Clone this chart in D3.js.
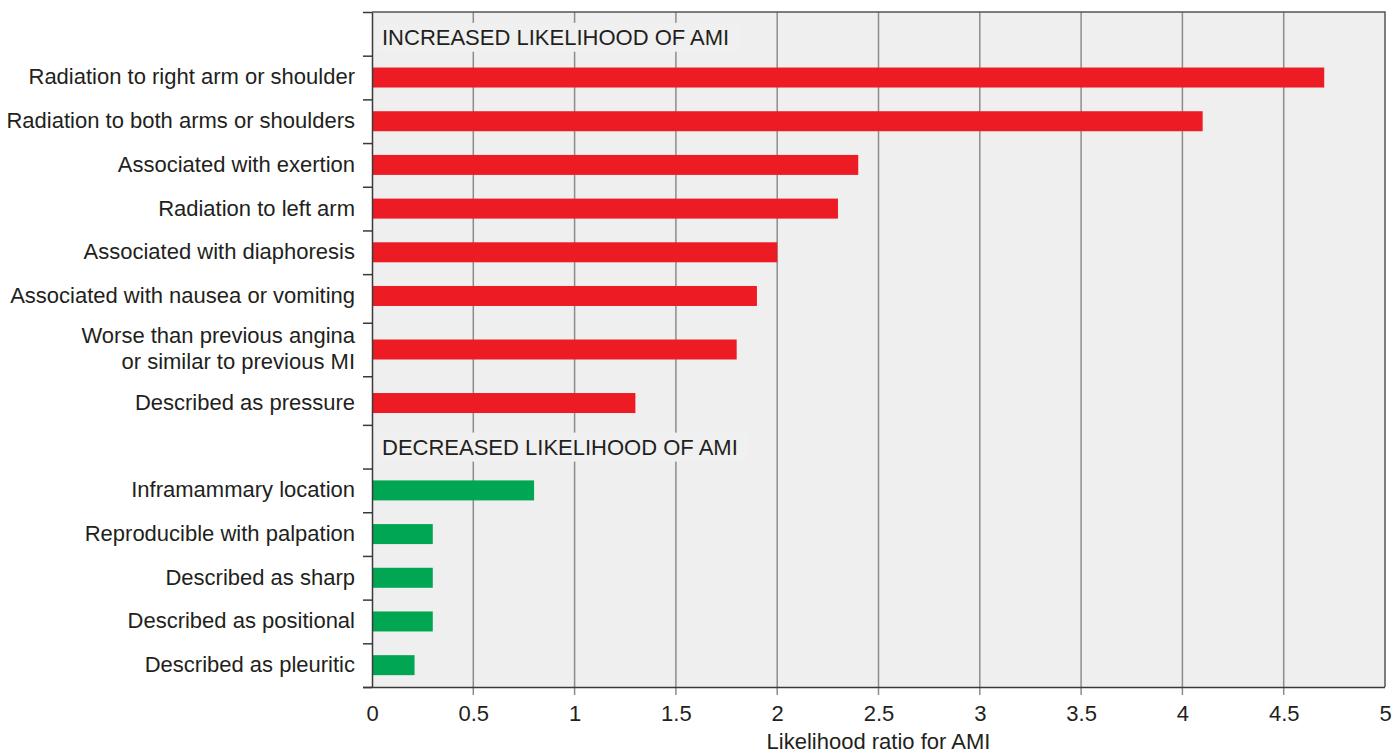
<!DOCTYPE html>
<html>
<head>
<meta charset="utf-8">
<script src="https://cdn.jsdelivr.net/npm/d3@7"></script>
<style>
  html, body { margin: 0; padding: 0; background: #fff; }
  svg { display: block; font-family: "Liberation Sans", Arial, Helvetica, sans-serif; }
</style>
</head>
<body>
<svg id="chart" width="1393" height="756"></svg>
<script>
// ---------------- data ----------------
const groupLabels = ["INCREASED LIKELIHOOD OF AMI", "DECREASED LIKELIHOOD OF AMI"];
const increasedCategories = [
  "Radiation to right arm or shoulder",
  "Radiation to both arms or shoulders",
  "Associated with exertion",
  "Radiation to left arm",
  "Associated with diaphoresis",
  "Associated with nausea or vomiting",
  "Worse than previous angina\nor similar to previous MI",
  "Described as pressure"
];
const increasedValues = [4.7, 4.1, 2.4, 2.3, 2.0, 1.9, 1.8, 1.3];
const decreasedCategories = [
  "Inframammary location",
  "Reproducible with palpation",
  "Described as sharp",
  "Described as positional",
  "Described as pleuritic"
];
const decreasedValues = [0.8, 0.3, 0.3, 0.3, 0.21];
const xTickValues = [0, 0.5, 1, 1.5, 2, 2.5, 3, 3.5, 4, 4.5, 5];
const xTickLabels = ["0", "0.5", "1", "1.5", "2", "2.5", "3", "3.5", "4", "4.5", "5"];
const axisTitle = "Likelihood ratio for AMI";

// ---------------- layout ----------------
const W = 1393, H = 756;
const plot = { left: 372, right: 1385, top: 12, bottom: 687 };
const colors = { inc: "#ed1c24", dec: "#00a651", panel: "#efefef", grid: "#8c8c8c", frame: "#3a3a3a", text: "#231f20" };
const fontSize = 22;
const barH = 20;

// rows: label, increased..., label, decreased...
const rows = [];
rows.push({ type: "label", text: groupLabels[0] });
increasedCategories.forEach((c, i) => rows.push({ type: "bar", text: c, value: increasedValues[i], color: colors.inc }));
rows.push({ type: "label", text: groupLabels[1] });
decreasedCategories.forEach((c, i) => rows.push({ type: "bar", text: c, value: decreasedValues[i], color: colors.dec }));

// slot weight: two-line labels take more room
rows.forEach(r => { r.w = r.text.includes("\n") ? 1.45 : 1; });
let acc = 0;
rows.forEach(r => { r.slot = acc + r.w / 2; acc += r.w; });
const total = acc;

const x = d3.scaleLinear().domain([0, 5]).range([plot.left, plot.right]);
const y = d3.scaleLinear().domain([0, total]).range([plot.top, plot.bottom]);

// boundaries: midpoints between row centers, plus ends
const boundaries = [0];
for (let i = 0; i < rows.length - 1; i++) boundaries.push((rows[i].slot + rows[i + 1].slot) / 2);
boundaries.push(total);

const svg = d3.select("#chart");

// panel background
svg.append("rect")
  .attr("x", plot.left).attr("y", plot.top)
  .attr("width", plot.right - plot.left).attr("height", plot.bottom - plot.top)
  .attr("fill", colors.panel);

// gridlines (extend below as ticks)
svg.append("g").selectAll("line")
  .data(xTickValues.filter(v => v > 0 && v < 5))
  .join("line")
  .attr("x1", d => x(d)).attr("x2", d => x(d))
  .attr("y1", plot.top).attr("y2", plot.bottom + 8)
  .attr("stroke", colors.grid).attr("stroke-width", 1.5);

// section label boxes
const labelG = svg.append("g");
rows.filter(r => r.type === "label").forEach(r => {
  const g = labelG.append("g");
  const t = g.append("text")
    .attr("x", plot.left + 10)
    .attr("y", y(r.slot) + (r === rows[0] ? 3 : 0))
    .attr("dy", "0.36em")
    .attr("font-size", fontSize)
    .attr("fill", colors.text)
    .text(r.text);
  const bb = t.node().getBBox();
  g.insert("rect", "text")
    .attr("x", bb.x - 5).attr("y", bb.y - 2)
    .attr("width", bb.width + 16).attr("height", bb.height + 4)
    .attr("fill", "#f0f0f0");
});

// bars
const barRows = rows.filter(r => r.type === "bar");
svg.append("g").selectAll("rect")
  .data(barRows)
  .join("rect")
  .attr("x", x(0))
  .attr("y", d => y(d.slot) - barH / 2)
  .attr("width", d => x(d.value) - x(0))
  .attr("height", barH)
  .attr("fill", d => d.color);

// frame: top and right
svg.append("path")
  .attr("d", `M${plot.left},${plot.top}H${plot.right}V${plot.bottom}`)
  .attr("fill", "none").attr("stroke", "#555").attr("stroke-width", 1.5);

// left axis (ticks at row boundaries)
const yAxis = d3.axisLeft(y).tickValues(boundaries).tickFormat("").tickSizeInner(9).tickSizeOuter(0);
const gy = svg.append("g").attr("transform", `translate(${plot.left},0)`).call(yAxis);
gy.selectAll("path, line").attr("stroke", colors.frame).attr("stroke-width", 1.5);

// bottom axis
const xAxis = d3.axisBottom(x).tickValues(xTickValues).tickFormat((d, i) => xTickLabels[i]).tickSize(0).tickPadding(18);
const gx = svg.append("g").attr("transform", `translate(0,${plot.bottom})`).call(xAxis);
gx.select(".domain").attr("d", `M${plot.left - 9},0.5H${plot.right}`).attr("stroke", colors.frame).attr("stroke-width", 1.5);
gx.selectAll("text").attr("font-size", fontSize).attr("fill", colors.text).attr("font-family", null);

// category labels
const catG = svg.append("g");
barRows.forEach(r => {
  const lines = r.text.split("\n");
  const t = catG.append("text")
    .attr("x", plot.left - 17)
    .attr("y", y(r.slot))
    .attr("text-anchor", "end")
    .attr("font-size", fontSize)
    .attr("fill", colors.text);
  const lh = 26;
  lines.forEach((ln, i) => {
    t.append("tspan")
      .attr("x", plot.left - 17)
      .attr("y", y(r.slot) + (i - (lines.length - 1) / 2) * lh - 1)
      .attr("dy", "0.36em")
      .text(ln);
  });
});

// axis title
svg.append("text")
  .attr("x", (plot.left + plot.right) / 2)
  .attr("y", 749)
  .attr("text-anchor", "middle")
  .attr("font-size", fontSize)
  .attr("fill", colors.text)
  .text(axisTitle);
</script>
</body>
</html>
